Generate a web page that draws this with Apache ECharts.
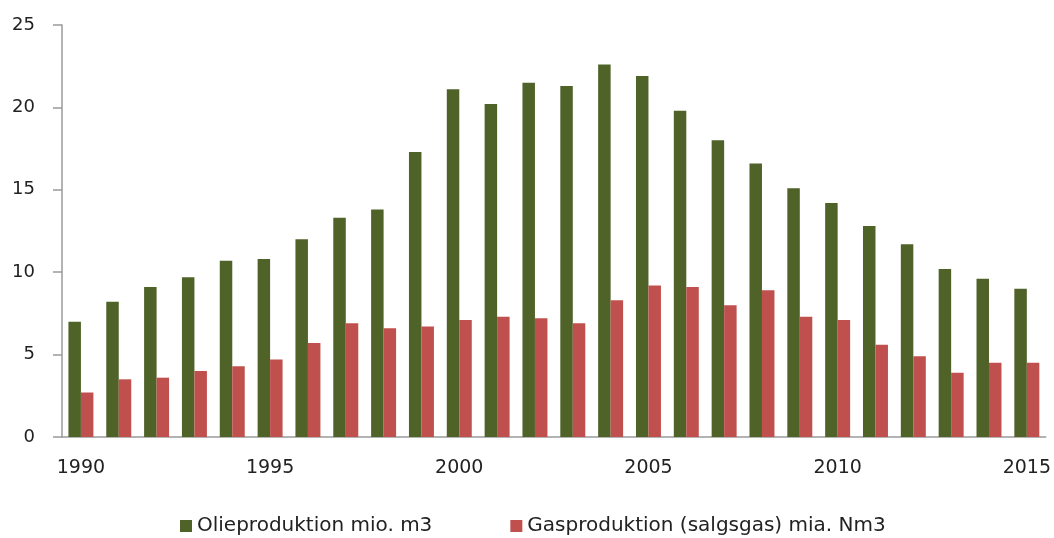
<!DOCTYPE html>
<html>
<head>
<meta charset="utf-8">
<script src="https://cdn.jsdelivr.net/npm/echarts@6/dist/echarts.min.js"></script>
<style>
    html, body { margin: 0; padding: 0; background: #fff; }
    #chart { width: 1054px; height: 538px; }
</style>
</head>
<body>
<div id="chart"></div>
<script>
var years = ['1990', '1991', '1992', '1993', '1994', '1995', '1996', '1997', '1998', '1999',
    '2000', '2001', '2002', '2003', '2004', '2005', '2006', '2007', '2008', '2009',
    '2010', '2011', '2012', '2013', '2014', '2015'];
// olie, mio. m3
var olie = [7.0, 8.2, 9.1, 9.7, 10.7, 10.8, 12.0, 13.3, 13.8, 17.3,
    21.1, 20.2, 21.5, 21.3, 22.6, 21.9, 19.8, 18.0, 16.6, 15.1,
    14.2, 12.8, 11.7, 10.2, 9.6, 9.0];
// gas, mia. Nm3
var gas = [2.7, 3.5, 3.6, 4.0, 4.3, 4.7, 5.7, 6.9, 6.6, 6.7,
    7.1, 7.3, 7.2, 6.9, 8.3, 9.2, 9.1, 8.0, 8.9, 7.3,
    7.1, 5.6, 4.9, 3.9, 4.5, 4.5];
var names = ['Olieproduktion mio. m3', 'Gasproduktion (salgsgas) mia. Nm3'];

var myChart = echarts.init(document.getElementById('chart'));
var axisColor = '#9a9a9a';
var textColor = '#222';

var option = {
    animation: false,
    color: ['#4F6228', '#C0504D'],
    textStyle: { fontFamily: 'DejaVu Sans' },
    grid: { left: 62, right: 8, top: 25, bottom: 101 },
    legend: {
        left: 175,
        top: 511,
        itemWidth: 12,
        itemHeight: 12,
        itemGap: 78,
        itemTextGap: 11,
        icon: 'rect',
        textStyle: { fontSize: 20, color: textColor, fontFamily: 'DejaVu Sans' },
        data: names
    },
    xAxis: {
        type: 'category',
        data: years,
        axisLine: { lineStyle: { color: axisColor, width: 1.5 } },
        axisTick: { length: 8, interval: 0, lineStyle: { color: axisColor, width: 1.5 } },
        axisLabel: { interval: 4, margin: 22, fontSize: 19, color: textColor }
    },
    yAxis: {
        type: 'value',
        min: 0,
        max: 25,
        interval: 5,
        axisLine: { show: true, lineStyle: { color: axisColor, width: 1.5 } },
        axisTick: { show: true, length: 9, lineStyle: { color: axisColor, width: 1.5 } },
        splitLine: { show: false },
        axisLabel: { margin: 27, fontSize: 18, color: textColor }
    },
    series: [{
        name: names[0],
        type: 'bar',
        data: olie,
        barGap: '0%',
        barCategoryGap: '34%'
    }, {
        name: names[1],
        type: 'bar',
        data: gas,
        barGap: '0%',
        barCategoryGap: '34%'
    }]
};
myChart.setOption(option);
</script>
</body>
</html>
